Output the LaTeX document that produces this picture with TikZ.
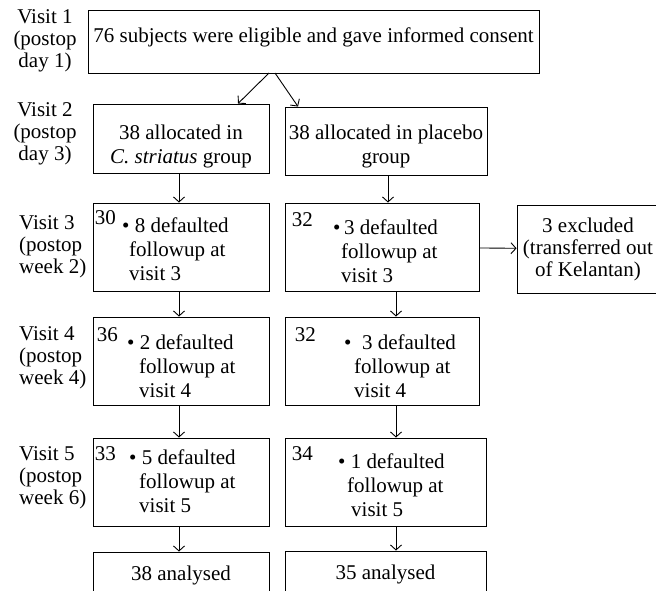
\documentclass[tikz,border=0pt]{standalone}
\usepackage{fontspec}
\setmainfont{Liberation Serif}
\usetikzlibrary{arrows.meta,positioning}

\begin{document}
\begin{tikzpicture}[x=1pt,y=-1pt,>={Straight Barb[length=5pt,width=11pt]},
    every node/.style={font=\fontsize{21}{24}\selectfont},
    box/.style={draw,line width=0.9pt,inner sep=0pt,align=center},
    cnt/.style={inner sep=0pt,anchor=north west},
    body/.style={inner sep=0pt,anchor=west,align=left},
    visit/.style={inner sep=0pt,font=\fontsize{21}{22}\selectfont},
    link/.style={->,line width=0.9pt}]
    \clip (0,0) rectangle (656,590);
    % visits
    \node[visit,align=center] (v1) at (45,41) {Visit 1\\(postop\\day 1)};
    \node[visit,align=center] (v2) at (45,134) {Visit 2\\(postop\\day 3)};
    \node[visit,align=left,anchor=west] (v3) at (19,247) {Visit 3\\(postop\\week 2)};
    \node[visit,align=left,anchor=west] (v4) at (19,358) {Visit 4\\(postop\\week 4)};
    \node[visit,align=left,anchor=west] (v5) at (19,478) {Visit 5\\(postop\\week 6)};
    % boxes
    \node[box,minimum width=451,minimum height=63,text depth=12.5pt] (all) at (313.5,41.5) {76 subjects were eligible and gave informed consent};
    \node[box,minimum width=176,minimum height=69,text height=54pt] (cs2) at (181,138.5) {38 allocated in\\\textit{C. striatus} group};
    \node[box,minimum width=202,minimum height=68,text height=50pt] (pl2) at (386,141) {38 allocated in placebo\\group};
    \node[box,minimum width=176,minimum height=88] (cs3) at (181,247) {};
    \node[box,minimum width=194,minimum height=88] (pl3) at (382,247) {};
    \node[box,minimum width=142,minimum height=88,font=\fontsize{21}{22}\selectfont] (ex) at (588,249) {3 excluded\\(transferred out\\of Kelantan)};
    \node[box,minimum width=176,minimum height=88] (cs4) at (181,361) {};
    \node[box,minimum width=194,minimum height=88] (pl4) at (382,361) {};
    \node[box,minimum width=176,minimum height=88] (cs5) at (181,482) {};
    \node[box,minimum width=201,minimum height=88] (pl5) at (385.5,482) {};
    \node[box,minimum width=176,minimum height=46] (cs6) at (181,575) {38 analysed};
    \node[box,minimum width=201,minimum height=46] (pl6) at (385.5,574) {35 analysed};
    % counts
    \node[cnt,below right=8pt and 2pt of cs3.north west] (n3a) {30};
    \node[cnt,below right=10pt and 7pt of pl3.north west] (n3b) {32};
    \node[cnt,below right=11pt and 4pt of cs4.north west] (n4a) {36};
    \node[cnt,below right=11pt and 10pt of pl4.north west] (n4b) {32};
    \node[cnt,below right=9pt and 2pt of cs5.north west] (n5a) {33};
    \node[cnt,below right=9pt and 7pt of pl5.north west] (n5b) {34};
    % defaulted
    \node[body] (d3a) at (122,249) {\textbullet\ 8 defaulted\\\hspace*{7pt}followup at\\\hspace*{7pt}visit 3};
    \node[body] (d3b) at (333,251) {\textbullet\,3 defaulted\\\hspace*{8pt}followup at\\\hspace*{8pt}visit 3};
    \node[body] (d4a) at (127,366) {\textbullet\ 2 defaulted\\\hspace*{12pt}followup at\\\hspace*{12pt}visit 4};
    \node[body] (d4b) at (344,366) {\textbullet\ \ 3 defaulted\\\hspace*{10pt}followup at\\\hspace*{10pt}visit 4};
    \node[body] (d5a) at (129,481) {\textbullet\ 5 defaulted\\\hspace*{10pt}followup at\\\hspace*{10pt}visit 5};
    \node[body] (d5b) at (338,485) {\textbullet\ 1 defaulted\\\hspace*{9pt}followup at\\\hspace*{13pt}visit 5};
    % arrows
    \coordinate (lx) at (179,0);
    \coordinate (rx) at (396,0);
    \coordinate (s1) at (269,73);
    \coordinate (s2) at (275,73);
    \coordinate (e1) at (238,0);
    \coordinate (e2) at (298,0);
    \draw[link] (s1) -- (cs2.north -| e1);
    \draw[link] (s2) -- (pl2.north -| e2);
    \draw[link] (cs2.south -| lx) -- (cs3.north -| lx);
    \draw[link] (cs3.south -| lx) -- (cs4.north -| lx);
    \draw[link] (cs4.south -| lx) -- (cs5.north -| lx);
    \draw[link] (cs5.south -| lx) -- (cs6.north -| lx);
    \draw[link] (pl2.south -| 388,0) -- (pl3.north -| 388,0);
    \draw[link] (pl3.south -| rx) -- (pl4.north -| rx);
    \draw[link] (pl4.south -| rx) -- (pl5.north -| rx);
    \draw[link] (pl5.south -| rx) -- (pl6.north -| rx);
    \draw[link] (pl3) -- (ex);
\end{tikzpicture}
\end{document}
